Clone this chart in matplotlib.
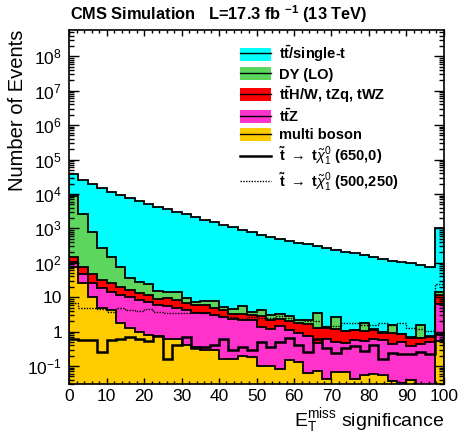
import numpy as np
import matplotlib
matplotlib.use("Agg")
import matplotlib.pyplot as plt
from matplotlib.patches import Patch
from matplotlib.lines import Line2D
from matplotlib.ticker import (LogLocator, FixedLocator, MultipleLocator,
                               FuncFormatter, NullFormatter)

plt.rcParams['font.family'] = 'Liberation Sans'
plt.rcParams['mathtext.fontset'] = 'custom'
plt.rcParams['mathtext.rm'] = 'Liberation Sans'
plt.rcParams['mathtext.it'] = 'Liberation Sans:italic'
plt.rcParams['mathtext.bf'] = 'Liberation Sans:bold'

# 40 bins of width 2.5, last bin holds the overflow
edges = np.linspace(0, 100, 41)

multiboson = [76, 25, 10.3, 4.7, 4.2, 1.75, 1.24, 0.97, 0.79, 0.74,
              0.6, 0.6, 0.41, 0.36, 0.29, 0.29, 0.16, 0.16, 0.19, 0.18,
              0.10, 0.10, 0.083, 0.15, 0.13, 0.064, 0.071, 0.041, 0.067, 0.066,
              0.042, 0.053, 0.06, 0.053, 0.036, 0.033, 0.039, 0.018, 0.018, 0.53]
ttz = [31, 22, 15.7, 13.4, 10.3, 9.7, 8.6, 7.3, 6.6, 5.1,
       4.9, 4.4, 3.8, 3.0, 3.1, 2.7, 2.5, 2.2, 2.0, 2.0,
       1.27, 1.09, 1.36, 1.0, 0.79, 0.67, 0.40, 0.55, 0.43, 0.41,
       0.52, 0.47, 0.53, 0.51, 0.39, 0.47, 0.34, 0.41, 0.48, 5.6]
ttx = [36, 26, 21, 13.3, 10.9, 8.5, 6.2, 4.7, 4.1, 3.3,
       3.7, 3.2, 2.4, 2.5, 2.5, 1.7, 1.7, 0.97, 1.09, 0.85,
       1.45, 1.03, 0.91, 0.85, 0.88, 0.88, 0.82, 0.70, 0.71, 0.56,
       0.54, 0.50, 0.56, 0.36, 0.46, 0.33, 0.28, 0.24, 0.21, 5.1]
dy = [8600, 2470, 751, 231, 118, 56, 19, 15, 13.3, 5.9,
      5.3, 6.3, 3.1, 1.2, 2.0, 3.1, 0.85, 1.3, 2.2, 0.73,
      1.4, 0.73, 0.79, 0.85, 0.44, 0.56, 2.2, 0.04, 1.45, 0.03,
      0.04, 0.7, 0.03, 0.02, 0.63, 0.02, 0.02, 0.85, 0.02, 2.7]
ttbar = [28800, 22800, 18200, 14260, 11230, 9180, 7410, 6080, 4960, 4150,
         3550, 2960, 2540, 2120, 1770, 1520, 1280, 1080, 914, 777,
         649, 567, 485, 424, 379, 340, 308, 272, 232, 208,
         186, 162, 142, 127, 113, 102, 96, 84, 76, 984]
sig_650_0 = [0.62, 0.56, 0.56, 0.26, 0.56, 0.6, 0.68, 0.62, 0.54, 0.74,
             0.16, 0.41, 0.68, 0.33, 0.36, 0.42, 0.62, 0.29, 0.35, 0.30,
             0.50, 0.36, 0.50, 0.66, 0.42, 0.25, 0.59, 0.34, 0.24, 0.34,
             0.38, 0.27, 0.40, 0.16, 0.24, 0.22, 0.22, 0.25, 0.23, 0.85]
sig_500_250 = [6.7, 5.0, 5.0, 4.4, 3.75, 4.7, 4.2, 3.9, 4.4, 3.75,
               3.5, 3.4, 3.4, 3.75, 3.5, 3.0, 2.8, 2.7, 2.4, 2.7,
               2.5, 2.5, 2.8, 2.5, 2.2, 2.0, 2.1, 1.45, 1.45, 1.73,
               1.8, 1.6, 1.6, 1.73, 1.6, 1.73, 1.29, 1.2, 1.03, 24]

labels = [r't$\mathbf{\bar{t}}$/single-t', 'DY (LO)', r't$\mathbf{\bar{t}}$H/W, tZq, tWZ',
          r't$\mathbf{\bar{t}}$Z', 'multi boson']
colors = ['#00FFFF', '#5CD65C', '#FF0000', '#FF33CC', '#FFCC00']
decades = [1e-1, 1, 10, 1e2, 1e3, 1e4, 1e5, 1e6, 1e7, 1e8]

fig = plt.figure(figsize=(4.58, 4.34), dpi=100)
ax = fig.add_axes([69/458, 1-384/434, 375/458, 354/434])

# stack from the bottom: multi boson, ttZ, ttX, DY, tt
stack = np.cumsum(np.array([multiboson, ttz, ttx, dy, ttbar]), axis=0)
for top, c in zip(stack[::-1], colors):
    ax.stairs(top, edges, baseline=1e-4, fill=True, color=c, lw=0, zorder=1)
    ax.stairs(top, edges, baseline=1e-4, color='black', lw=1.3, zorder=2)

ax.stairs(sig_650_0, edges, baseline=None, color='black', lw=1.8, zorder=3)
ax.stairs(sig_500_250, edges, baseline=None, color='black', lw=1.0,
          ls=(0, (1, 1)), zorder=3)

ax.set_xlim(0, 100)
ax.set_yscale('log')
ax.set_ylim(0.03, 5.8e8)

ax.xaxis.set_major_locator(MultipleLocator(10))
ax.xaxis.set_minor_locator(MultipleLocator(2))
ax.yaxis.set_major_locator(FixedLocator(decades))
ax.yaxis.set_minor_locator(LogLocator(base=10, subs=np.arange(2, 10), numticks=20))
ax.yaxis.set_minor_formatter(NullFormatter())


def decade(v, pos):
    e = int(round(np.log10(v)))
    if e == 0:
        return '1'
    if e == 1:
        return '10'
    return r'$\mathdefault{10^{%d}}$' % e


ax.yaxis.set_major_formatter(FuncFormatter(decade))
ax.tick_params(which='both', direction='in', top=True, right=True, labelsize=12.5, width=1)
ax.tick_params(axis='x', which='major', length=4.5, pad=3.5)
ax.tick_params(axis='x', which='minor', length=2.3)
ax.tick_params(axis='y', which='major', length=7.5, pad=5)
ax.tick_params(axis='y', which='minor', length=3.8)
for s in ax.spines.values():
    s.set_linewidth(1.2)

handles = [(Patch(facecolor=c, edgecolor='none'), Line2D([], [], color='black', lw=1))
           for c in colors]
handles += [Line2D([], [], color='black', lw=1.8),
            Line2D([], [], color='black', lw=1.0, ls=(0, (1, 1)))]
leg_labels = labels + [r'$\mathbf{\tilde{t}}$ $\rightarrow$ t$\tilde{\chi}^{0}_{1}$ (650,0)',
                       r'$\mathbf{\tilde{t}}$ $\rightarrow$ t$\tilde{\chi}^{0}_{1}$ (500,250)']
ax.legend(handles, leg_labels, loc='upper left', bbox_to_anchor=(240/458, 1-44/434),
          bbox_transform=fig.transFigure, frameon=False, borderpad=0, borderaxespad=0,
          handlelength=2.1, handleheight=1.0, handletextpad=0.55, labelspacing=0.2,
          prop={'weight': 'bold', 'size': 10.5})

fig.text(70/458, 1-14/434, r'CMS Simulation   L=17.3 fb $^{\mathbf{-1}}$ (13 TeV)',
         fontsize=11.8, fontweight='bold', ha='left', va='center')
fig.text(18/458, 1-30/434, 'Number of Events', rotation=90, fontsize=14.5,
         ha='center', va='top')
fig.text(444/458, 1-426/434, r'E$_{\mathrm{T}}^{\mathrm{miss}}$ significance',
         fontsize=14, ha='right', va='baseline')

fig.savefig('out.png', dpi=100)
